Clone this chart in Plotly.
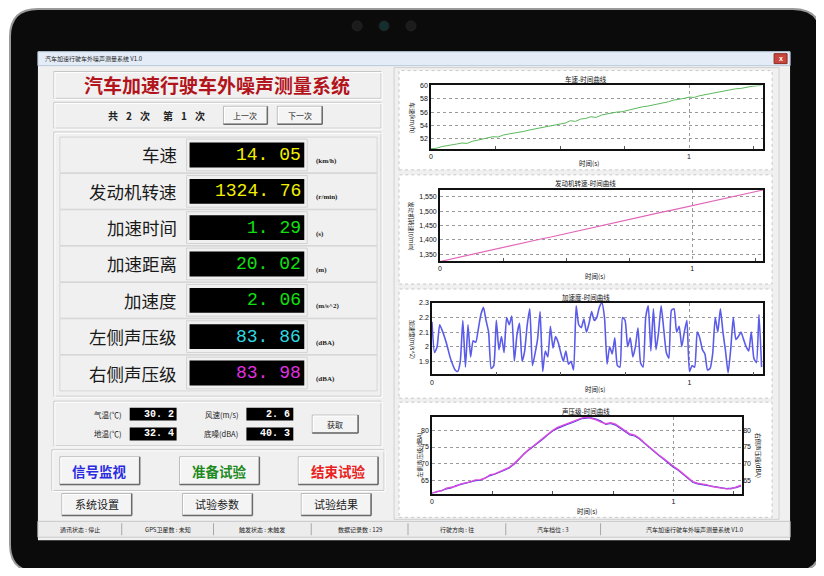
import plotly.graph_objects as go

# ---------------- data ----------------
title_text = "汽车加速行驶车外噪声测量系统"
window_title = "汽车加速行驶车外噪声测量系统 V1.0"
nav_tokens = ["共", "2", "次", "第", "1", "次"]
nav_buttons = ["上一次", "下一次"]

meas_labels = ["车速", "发动机转速", "加速时间", "加速距离", "加速度", "左侧声压级", "右侧声压级"]
meas_values = [14.05, 1324.76, 1.29, 20.02, 2.06, 83.86, 83.98]
meas_units = ["(km/h)", "(r/min)", "(s)", "(m)", "(m/s^2)", "(dBA)", "(dBA)"]
meas_colors = ["#f2f200", "#f2f200", "#10e010", "#10e010", "#10e010", "#30d8e0", "#e030e0"]

env_labels = ["气温(℃)", "风速(m/s)", "地温(℃)", "底噪(dBA)"]
env_values = [30.2, 2.6, 32.4, 40.3]

action_buttons = ["信号监视", "准备试验", "结束试验"]
action_colors = ["#2a2ae0", "#1f8a1f", "#e82020"]
bottom_buttons = ["系统设置", "试验参数", "试验结果"]

status_items = ["通讯状态 : 停止", "GPS卫星数 : 未知", "触发状态 : 未触发", "数据记录数 : 129",
                "行驶方向 : 往", "汽车档位 : 3", "汽车加速行驶车外噪声测量系统 V1.0"]

chart_titles = ["车速-时间曲线", "发动机转速-时间曲线", "加速度-时间曲线", "声压级-时间曲线"]
chart_ylabels = ["车速(km/h)", "发动机转速(r/min)", "加速度(m/s^2)", "左侧声压级(dBA)"]
chart4_ylabel_right = "右侧声压级(dBA)"
xlabel = "时间(s)"

# sample clocks (s)
t_speed = [round(0.02 * i, 2) for i in range(65)]
t_rpm = [round(0.04 * i, 2) for i in range(33)]
t_acc = [round(0.01 * i, 2) for i in range(129)]
t_spl = t_speed

speed = [50.50, 50.55, 50.80, 50.90, 51.10, 51.20, 51.35, 51.30, 51.60, 51.75,
         51.95, 52.05, 52.30, 52.25, 52.55, 52.70, 52.80, 53.00, 53.10, 53.30,
         53.45, 53.55, 53.80, 53.90, 54.05, 54.20, 54.35, 54.70, 54.60, 54.95,
         55.05, 55.30, 55.20, 55.55, 55.70, 55.90, 56.00, 56.05, 56.25, 56.45,
         56.55, 56.80, 56.90, 57.05, 57.30, 57.40, 57.55, 57.80, 57.90, 58.05,
         58.25, 58.20, 58.45, 58.60, 58.70, 58.95, 59.00, 59.20, 59.30, 59.50,
         59.55, 59.75, 59.85, 59.95, 60.00]

rpm = [1325, 1333, 1340, 1349, 1356, 1363, 1372, 1380, 1387, 1395, 1403, 1410,
       1418, 1426, 1434, 1441, 1449, 1457, 1465, 1472, 1480, 1488, 1496, 1503,
       1511, 1519, 1527, 1534, 1542, 1550, 1557, 1565, 1573]

acc = [2.17, 1.96, 2.00, 2.15, 2.11, 2.06, 2.00, 1.93, 1.88, 1.84,
       1.83, 1.90, 2.18, 1.86, 2.15, 1.93, 2.04, 2.03, 2.12, 2.22,
       2.27, 2.18, 2.10, 1.85, 1.87, 2.18, 1.98, 2.07, 1.96, 2.20,
       2.15, 2.21, 1.90, 2.08, 2.16, 1.90, 1.97, 2.15, 2.26, 1.87,
       1.95, 2.05, 2.24, 1.83, 1.97, 1.93, 2.14, 1.99, 2.07, 2.03,
       1.96, 1.90, 1.97, 1.88, 1.90, 1.84, 2.28, 2.15, 2.13, 2.19,
       2.10, 2.16, 2.24, 2.18, 2.20, 2.27, 2.30, 2.20, 1.88, 2.00,
       1.95, 2.06, 1.87, 1.86, 2.20, 2.18, 2.00, 2.06, 1.93, 2.00,
       2.13, 1.89, 1.86, 2.20, 2.28, 1.97, 2.26, 1.98, 2.10, 2.28,
       2.12, 1.96, 1.92, 2.25, 2.26, 2.10, 2.14, 2.00, 2.10, 2.18,
       1.83, 1.87, 1.86, 2.10, 2.06, 1.98, 1.95, 1.84, 1.85, 1.95,
       2.20, 2.10, 2.26, 2.10, 1.97, 1.82, 1.98, 2.20, 2.05, 2.07,
       2.10, 2.05, 2.00, 1.97, 2.10, 1.92, 1.89, 2.22, 1.86]

spl_left = [61.1, 61.4, 61.9, 62.4, 62.7, 63.4, 63.8, 64.0, 64.6, 64.9,
            65.0, 65.8, 66.4, 66.8, 67.3, 68.0, 68.7, 69.8, 71.2, 72.9,
            74.0, 75.1, 76.3, 77.4, 78.7, 79.8, 80.6, 81.3, 81.8, 82.3,
            82.9, 83.5, 83.7, 83.8, 83.4, 82.8, 81.8, 82.1, 81.6, 80.6,
            79.6, 78.6, 78.3, 77.4, 76.1, 74.8, 73.5, 72.4, 71.3, 70.1,
            68.9, 68.0, 66.7, 65.6, 64.4, 63.9, 63.7, 63.5, 63.3, 63.0,
            62.7, 62.5, 62.6, 62.8, 63.3]
spl_right = [61.0, 61.6, 61.8, 62.6, 62.9, 63.2, 63.9, 64.2, 64.5, 65.1,
             65.2, 65.6, 66.6, 66.9, 67.5, 68.2, 68.9, 70.0, 71.4, 73.1,
             74.2, 75.3, 76.5, 77.6, 78.9, 80.0, 80.9, 81.5, 82.0, 82.6,
             83.2, 83.7, 84.0, 83.6, 83.2, 82.5, 82.0, 82.3, 81.9, 80.9,
             79.9, 78.9, 78.6, 77.6, 76.3, 75.0, 73.7, 72.6, 71.5, 70.3,
             69.2, 68.2, 66.9, 65.8, 64.6, 64.1, 63.9, 63.6, 63.1, 62.8,
             62.5, 62.4, 62.4, 62.9, 63.5]

# ---------------- helpers ----------------
# page body has an 8px margin; figure sized to fit the 824x576 window
OFF = 8
W, H = 824 - 2 * OFF, 576 - 2 * OFF
CJK = "Noto Sans CJK SC"
MONO = "Liberation Mono"


def X(px):
    return (px - OFF) / W


def Y(py):
    return 1 - (py - OFF) / H


shapes = []
annos = []


def rect(x0, y0, x1, y1, fill=None, line=None, lw=1, dash=None):
    ln = dict(color=line if line else "rgba(0,0,0,0)", width=lw if line else 0)
    if dash:
        ln["dash"] = dash
    shapes.append(dict(type="rect", xref="paper", yref="paper", x0=X(x0), x1=X(x1),
                       y0=Y(y1), y1=Y(y0), fillcolor=fill or "rgba(0,0,0,0)",
                       line=ln, layer="below"))


def hline(x0, x1, y, color, lw=1):
    shapes.append(dict(type="line", xref="paper", yref="paper", x0=X(x0), x1=X(x1),
                       y0=Y(y), y1=Y(y), line=dict(color=color, width=lw), layer="below"))


def vline(x, y0, y1, color, lw=1):
    shapes.append(dict(type="line", xref="paper", yref="paper", x0=X(x), x1=X(x),
                       y0=Y(y0), y1=Y(y1), line=dict(color=color, width=lw), layer="below"))


def circle(cx, cy, r, fill):
    shapes.append(dict(type="circle", xref="paper", yref="paper", x0=X(cx - r), x1=X(cx + r),
                       y0=Y(cy + r), y1=Y(cy - r), fillcolor=fill,
                       line=dict(color="#222", width=1), layer="below"))


def rrect(x0, y0, x1, y1, r, fill, line, lw):
    p = (f"M {X(x0 + r)},{Y(y0)} L {X(x1 - r)},{Y(y0)} Q {X(x1)},{Y(y0)} {X(x1)},{Y(y0 + r)} "
         f"L {X(x1)},{Y(y1 - r)} Q {X(x1)},{Y(y1)} {X(x1 - r)},{Y(y1)} "
         f"L {X(x0 + r)},{Y(y1)} Q {X(x0)},{Y(y1)} {X(x0)},{Y(y1 - r)} "
         f"L {X(x0)},{Y(y0 + r)} Q {X(x0)},{Y(y0)} {X(x0 + r)},{Y(y0)} Z")
    shapes.append(dict(type="path", xref="paper", yref="paper", path=p, fillcolor=fill,
                       line=dict(color=line, width=lw), layer="below"))


def text(x, y, s, size=10, color="#000", xanchor="center", family=CJK, bold=False, angle=0):
    if bold:
        s = f"<b>{s}</b>"
    annos.append(dict(xref="paper", yref="paper", x=X(x), y=Y(y), text=s, showarrow=False,
                      xanchor=xanchor, yanchor="middle", textangle=angle,
                      font=dict(size=size, color=color, family=family)))


def button(x0, y0, x1, y1):
    rect(x0, y0, x1, y1, fill="#f4f4f4", line="#b8b8b8", lw=1)
    hline(x0, x1, y1, "#6a6a6a", 1.5)
    vline(x1, y0, y1, "#6a6a6a", 1.5)
    hline(x0 + 1, x1 - 1, y0 + 1, "#ffffff", 1)
    vline(x0 + 1, y0 + 1, y1 - 1, "#ffffff", 1)


def group(x0, y0, x1, y1):
    rect(x0, y0, x1, y1, fill="#f0f0f0", line="#c4c4c4", lw=1)
    rect(x0 + 1, y0 + 1, x1 + 1, y1 + 1, line="#ffffff", lw=1)


def disp_fmt(v, nd):
    return f"{v:.{nd}f}".replace(".", ".\u00a0")


# ---------------- tablet frame ----------------
rrect(8, 5, 821, 572, 28, "#0b0b0b", "#9a9a9a", 2)
circle(356, 22, 5, "#1c1c1c")
circle(383, 22, 5, "#14302e")
circle(410, 22, 5, "#1c1c1c")

# ---------------- window ----------------
rect(36, 48, 790, 540, fill="#f0f0f0")
rect(36, 48, 790, 62, fill="#e4edf7", line="#b9c9dc", lw=1)
text(41, 55, window_title, size=6, color="#222", xanchor="left")
rect(774, 50, 787, 60, fill="#c9463d", line="#8a2a22", lw=1)
text(780.5, 55, "x", size=7, color="#fff", family="Liberation Sans", bold=True)

# title group
group(52, 68, 380, 95)
text(216, 81.5, title_text, size=19, color="#b3141c", bold=True)

# nav group
group(52, 99, 380, 125)
for tx, tok in zip([111, 127, 143, 166, 182, 198], nav_tokens):
    text(tx, 112, tok, size=10, color="#222", bold=True)
button(222, 103, 266, 121)
button(276, 103, 321, 121)
text(244, 112, nav_buttons[0], size=8, color="#222")
text(298.5, 112, nav_buttons[1], size=8, color="#222")

# measurement group
group(52, 129, 380, 395)
row_c = [152, 188.6, 225.2, 261.8, 298.4, 335, 371.6]
ndig = [2, 2, 2, 2, 2, 2, 2]
for i, lab in enumerate(meas_labels):
    c = row_c[i]
    rect(58, c - 18, 376, c + 18, line="#d6d6d6", lw=1)
    rect(185, c - 16, 306, c + 16, line="#d2d2d2", lw=1)
    rect(188, c - 12.5, 303, c + 12.5, fill="#000000")
    text(177, c, lab, size=17.5, color="#1a1a1a", xanchor="right")
    text(302, c, disp_fmt(meas_values[i], ndig[i]), size=18, color=meas_colors[i],
         xanchor="right", family=MONO)
    text(313, c + 6, meas_units[i], size=7, color="#222", xanchor="left",
         family="Liberation Serif", bold=True)

# environment group
group(52, 400, 380, 445)
env_pos = [(122, 413, 128, 175), (239, 413, 245, 292), (122, 433, 128, 175), (239, 433, 245, 292)]
for (lx, cy, bx0, bx1), lab, v in zip(env_pos, env_labels, env_values):
    text(lx, cy, lab, size=7.5, color="#222", xanchor="right")
    rect(bx0, cy - 6.5, bx1, cy + 6.5, fill="#000000")
    text(bx1 - 1, cy, disp_fmt(v, 1), size=10, color="#ffffff", xanchor="right",
         family=MONO, bold=True)
button(311, 414, 357, 432)
text(334, 423, "获取", size=8, color="#222")

# action buttons group
group(50, 449, 383, 490)
for (x0, x1), lab, col in zip([(58, 138), (178, 258), (297, 377)], action_buttons, action_colors):
    button(x0, 456, x1, 484)
    text((x0 + x1) / 2, 470, lab, size=13.5, color=col, bold=True)

# bottom buttons
for (x0, x1), lab in zip([(60, 130), (181, 251), (300, 370)], bottom_buttons):
    button(x0, 493, x1, 515)
    text((x0 + x1) / 2, 504, lab, size=11, color="#222")

# status bar
rect(36, 521, 790, 537, fill="#ececec", line="#c8c8c8", lw=1)
sep_x = [120, 212, 310, 407, 505, 600]
for sx in sep_x:
    vline(sx, 523, 535, "#a8a8a8", 1)
seg_edges = [36] + sep_x + [790]
for i, s in enumerate(status_items):
    text((seg_edges[i] + seg_edges[i + 1]) / 2, 529, s, size=6, color="#222")

# right panel
rect(393, 64, 779, 519, fill="#f0f0f0", line="#d0d0d0", lw=1)
boxes = [(398, 67, 772, 167), (398, 172, 772, 282), (398, 287, 772, 397), (398, 401, 772, 517)]
for b in boxes:
    rect(*b, fill="#ffffff", line="#c8c8c8", lw=1, dash="dot")

title_y = [75, 180, 295, 410]
for ty, tt in zip(title_y, chart_titles):
    text(585, ty, tt, size=6.5, color="#111")
xl_pos = [(588, 160), (594, 274), (594, 388), (586, 511)]
for (xx, yy) in xl_pos:
    text(xx, yy, xlabel, size=6.5, color="#111")
yl_pos = [(412, 114, 90), (411, 223, 90), (411, 337, 90), (419, 454, -90)]
for (xx, yy, ang), lab in zip(yl_pos, chart_ylabels):
    text(xx, yy, lab, size=6, color="#111", angle=ang)
text(758, 454, chart4_ylabel_right, size=6, color="#111", angle=90)

# ---------------- charts ----------------
fig = go.Figure()
fig.add_trace(go.Scatter(x=t_speed, y=speed, xaxis="x", yaxis="y", mode="lines",
                         line=dict(color="#5cb85c", width=1)))
fig.add_trace(go.Scatter(x=t_rpm, y=rpm, xaxis="x2", yaxis="y2", mode="lines",
                         line=dict(color="#e266b8", width=1.2)))
fig.add_trace(go.Scatter(x=t_acc, y=acc, xaxis="x3", yaxis="y3", mode="lines",
                         line=dict(color="#5b5bea", width=1.6, shape="spline", smoothing=0.5)))
fig.add_trace(go.Scatter(x=t_spl, y=spl_right, xaxis="x4", yaxis="y5", mode="lines",
                         line=dict(color="#d94be0", width=1.4)))
fig.add_trace(go.Scatter(x=t_spl, y=spl_left, xaxis="x4", yaxis="y4", mode="lines",
                         line=dict(color="#4a3ee0", width=1.2)))

tickfont = dict(size=7, family="Liberation Sans", color="#111")


def xax(x0, x1, y_anchor, rng):
    return dict(domain=[X(x0), X(x1)], anchor=y_anchor, range=rng, tickvals=[0, 1],
                ticktext=["0", "1"], showgrid=True, gridcolor="#9a9a9a", griddash="dot",
                gridwidth=1, showline=True, mirror=True, linecolor="#111", linewidth=1.5,
                ticks="", tickfont=tickfont, zeroline=False, fixedrange=True,
                minor=dict(tickvals=[0.25, 0.5, 0.75, 1.25], ticks="inside", ticklen=3,
                           tickcolor="#555", showgrid=False))


def yax(y_top, y_bot, x_anchor, rng, tv, tt=None, **kw):
    d = dict(domain=[Y(y_bot), Y(y_top)], anchor=x_anchor, range=rng, tickvals=tv,
             showgrid=True, gridcolor="#9a9a9a", griddash="dot", gridwidth=1,
             showline=True, mirror=True, linecolor="#111", linewidth=1.5, ticks="",
             tickfont=tickfont, zeroline=False, fixedrange=True)
    if tt:
        d["ticktext"] = tt
    d.update(kw)
    return d


fig.update_layout(
    width=W, height=H, margin=dict(l=0, r=0, t=0, b=0),
    paper_bgcolor="#ffffff", plot_bgcolor="#ffffff", showlegend=False,
    shapes=shapes, annotations=annos,
    xaxis=xax(430, 763, "y", [0, 1.287]),
    yaxis=yax(82, 146, "x", [50.45, 60], [52, 54, 56, 58, 60]),
    xaxis2=xax(439, 763, "y2", [0, 1.281]),
    yaxis2=yax(187, 259, "x2", [1326, 1574], [1350, 1400, 1450, 1500, 1550],
               ["1,350", "1,400", "1,450", "1,500", "1,550"]),
    xaxis3=xax(431, 763, "y3", [0, 1.286]),
    yaxis3=yax(301, 373, "x3", [1.81, 2.3], [1.9, 2.0, 2.1, 2.2, 2.3],
               ["1.9", "2", "2.1", "2.2", "2.3"]),
    xaxis4=xax(431, 742, "y4", [0, 1.285]),
    yaxis4=yax(416, 493, "x4", [61.0, 84.0], [65, 70, 75, 80]),
    yaxis5=dict(overlaying="y4", side="right", anchor="x4", range=[61.0, 84.0],
                tickvals=[65, 70, 75, 80], showgrid=False, showline=False, ticks="",
                tickfont=tickfont, zeroline=False, fixedrange=True),
)

fig.write_html("out.html")
